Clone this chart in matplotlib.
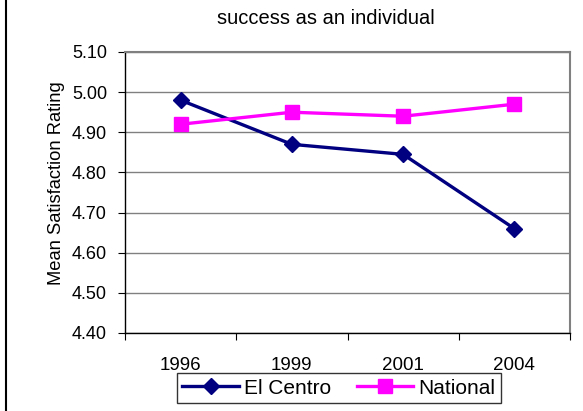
import matplotlib
matplotlib.use("Agg")
import matplotlib.pyplot as plt
from matplotlib.lines import Line2D

years = ["1996", "1999", "2001", "2004"]
el_centro = [4.98, 4.87, 4.845, 4.66]
national = [4.92, 4.95, 4.94, 4.97]
y_ticks = [4.40, 4.50, 4.60, 4.70, 4.80, 4.90, 5.00, 5.10]

font = "Liberation Sans"

fig = plt.figure(figsize=(5.83, 4.11), dpi=100)
ax = fig.add_axes([125 / 583, 1 - 333 / 411, 445 / 583, 281 / 411])

x = list(range(len(years)))
ax.plot(x, el_centro, color="#000080", lw=2.4, marker="D", markersize=8.5, label="El Centro")
ax.plot(x, national, color="#FF00FF", lw=2.4, marker="s", markersize=10, label="National")

ax.set_xlim(-0.5, 3.5)
ax.set_ylim(4.40, 5.10)
ax.set_yticks(y_ticks)
ax.set_yticklabels([f"{v:.2f}" for v in y_ticks], family=font, fontsize=13)
ax.set_xticks([-0.5, 0.5, 1.5, 2.5, 3.5])
ax.set_xticklabels([])
ax.set_xticks(x, minor=True)
ax.set_xticklabels(years, minor=True, family=font, fontsize=13.5)
ax.tick_params(axis="x", which="minor", length=0, pad=17)
ax.tick_params(axis="both", which="major", direction="out", length=5, color="black")
ax.tick_params(axis="y", pad=8)
ax.grid(axis="y", color="#808080", lw=1)
ax.set_axisbelow(True)
for s in ["top", "right"]:
    ax.spines[s].set_color("#808080")
    ax.spines[s].set_linewidth(1.5)
for s in ["left", "bottom"]:
    ax.spines[s].set_color("black")
    ax.spines[s].set_linewidth(1)

ax.set_ylabel("Mean Satisfaction Rating", family=font, fontsize=13.2)
ax.yaxis.set_label_coords((65 - 125) / 445, (333 - 183) / 281)

fig.text(326 / 583, 1 - 24 / 411, "success as an individual", family=font,
         fontsize=14.5, ha="center", va="baseline")

leg = ax.legend(loc="center", bbox_to_anchor=(339 / 583, 1 - 388 / 411),
                bbox_transform=fig.transFigure, ncol=2, frameon=True, fancybox=False,
                edgecolor="black", prop={"family": font, "size": 15},
                handlelength=2.7, handletextpad=0.25, columnspacing=1.25,
                borderpad=0.25, borderaxespad=0)
leg.get_frame().set_linewidth(1)

fig.add_artist(Line2D([6 / 583, 6 / 583], [0, 1], color="black", lw=1.5,
                      transform=fig.transFigure))

fig.savefig("out.png", dpi=100)
